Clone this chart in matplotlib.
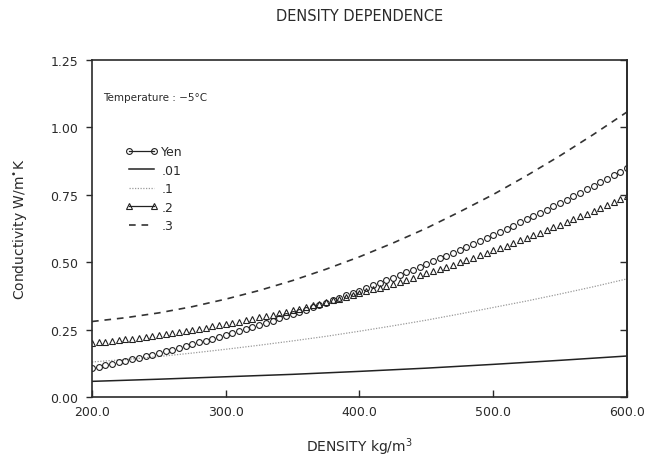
import matplotlib
matplotlib.use("Agg")
import matplotlib.pyplot as plt
from matplotlib.lines import Line2D

# ---- data ----
density_fine = [200 + 5 * i for i in range(81)]
yen = [0.1070, 0.1122, 0.1175, 0.1228, 0.1283, 0.1339, 0.1396, 0.1454, 0.1513, 0.1573,
       0.1634, 0.1697, 0.1760, 0.1824, 0.1889, 0.1955, 0.2023, 0.2091, 0.2161, 0.2231,
       0.2303, 0.2375, 0.2449, 0.2523, 0.2599, 0.2676, 0.2753, 0.2832, 0.2912, 0.2993,
       0.3074, 0.3157, 0.3241, 0.3326, 0.3412, 0.3499, 0.3587, 0.3676, 0.3767, 0.3858,
       0.3950, 0.4043, 0.4138, 0.4233, 0.4329, 0.4427, 0.4525, 0.4625, 0.4725, 0.4827,
       0.4929, 0.5033, 0.5138, 0.5243, 0.5350, 0.5458, 0.5567, 0.5677, 0.5788, 0.5900,
       0.6013, 0.6127, 0.6242, 0.6358, 0.6475, 0.6593, 0.6712, 0.6832, 0.6954, 0.7076,
       0.7199, 0.7324, 0.7449, 0.7576, 0.7703, 0.7832, 0.7961, 0.8092, 0.8224, 0.8356,
       0.8490]
k_02 = [0.2000, 0.2025, 0.2051, 0.2078, 0.2106, 0.2135, 0.2165, 0.2197, 0.2229, 0.2263,
        0.2298, 0.2333, 0.2370, 0.2408, 0.2447, 0.2488, 0.2529, 0.2571, 0.2615, 0.2659,
        0.2705, 0.2752, 0.2800, 0.2849, 0.2899, 0.2950, 0.3002, 0.3056, 0.3110, 0.3166,
        0.3223, 0.3280, 0.3339, 0.3399, 0.3460, 0.3523, 0.3586, 0.3650, 0.3716, 0.3782,
        0.3850, 0.3919, 0.3989, 0.4060, 0.4132, 0.4205, 0.4279, 0.4355, 0.4431, 0.4509,
        0.4588, 0.4667, 0.4748, 0.4830, 0.4913, 0.4998, 0.5083, 0.5169, 0.5257, 0.5345,
        0.5435, 0.5526, 0.5618, 0.5711, 0.5805, 0.5900, 0.5996, 0.6094, 0.6192, 0.6292,
        0.6393, 0.6494, 0.6597, 0.6701, 0.6806, 0.6913, 0.7020, 0.7128, 0.7238, 0.7348,
        0.7460]

density_mid = [200, 225, 250, 275, 300, 325, 350, 375, 400, 425, 450, 475, 500, 525, 550, 575, 600]
k_03 = [0.280, 0.294, 0.312, 0.335, 0.363, 0.395, 0.432, 0.474, 0.520, 0.571, 0.626,
        0.687, 0.751, 0.821, 0.895, 0.974, 1.057]
k_01 = [0.130, 0.139, 0.150, 0.163, 0.177, 0.192, 0.208, 0.225, 0.244, 0.264, 0.285,
        0.308, 0.332, 0.356, 0.382, 0.409, 0.438]

density_coarse = [200, 250, 300, 350, 400, 450, 500, 550, 600]
k_001 = [0.058, 0.066, 0.075, 0.084, 0.095, 0.107, 0.121, 0.136, 0.152]

labels = ["Yen", ".01", ".1", ".2", ".3"]
x_ticks = [200, 300, 400, 500, 600]
x_tick_labels = ["200.0", "300.0", "400.0", "500.0", "600.0"]
y_ticks = [0.0, 0.25, 0.5, 0.75, 1.0, 1.25]
y_tick_labels = ["0.00", "0.25", "0.50", "0.75", "1.00", "1.25"]

plt.rcParams['font.family'] = ['DejaVu Sans']
ink = '#2a2a2a'

fig = plt.figure(figsize=(6.49, 4.60), dpi=100)
fig.patch.set_facecolor('white')
ax = fig.add_axes([0.1418, 0.1348, 0.8242, 0.7326])

ax.plot(density_coarse, k_001, color='#222222', lw=1.1, ls='-')
ax.plot(density_mid, k_01, color='#9a9a9a', lw=0.9, ls=(0, (1, 1.2)))
ax.plot(density_mid, k_03, color='#333333', lw=1.2, ls=(0, (4, 3.5)))
ax.plot(density_fine, yen, ls='none', marker='o', ms=4.2, mfc='none',
        mec='#222222', mew=0.8)
ax.plot(density_fine, k_02, ls='none', marker='^', ms=4.2, mfc='none',
        mec='#222222', mew=0.8)

ax.set_xlim(200, 600)
ax.set_ylim(0, 1.25)
ax.set_xticks(x_ticks)
ax.set_xticklabels(x_tick_labels, fontsize=9, color=ink)
ax.set_yticks(y_ticks)
ax.set_yticklabels(y_tick_labels, fontsize=9, color=ink)
ax.tick_params(axis='x', direction='in', length=5, width=1, color=ink, pad=6)
ax.tick_params(axis='y', direction='out', length=4, width=1, color=ink, pad=6)
for s in ax.spines.values():
    s.set_linewidth(1.2)
    s.set_color(ink)

sec = ax.secondary_yaxis('right')
sec.set_yticks(y_ticks)
sec.tick_params(axis='y', direction='in', length=5, width=1, color=ink,
                labelright=False)
sec.spines['right'].set_linewidth(1.2)
sec.spines['right'].set_color(ink)

ax.set_title("DENSITY DEPENDENCE", fontsize=10.5, color=ink, pad=29)
ax.set_xlabel("DENSITY kg/m$^3$", fontsize=10, color=ink, labelpad=12)
ax.set_ylabel(r"Conductivity W/m$^{\bullet}$K", fontsize=10, color=ink, labelpad=15)

ax.text(0.021, 0.89, "Temperature : \u22125\u00b0C", transform=ax.transAxes,
        fontsize=7.5, color=ink, va='center', ha='left')

handles = [
    Line2D([], [], color='#222222', lw=0.9, marker='o', ms=4.2, mfc='none', mew=0.8),
    Line2D([], [], color='#222222', lw=1.1),
    Line2D([], [], color='#9a9a9a', lw=0.9, ls=(0, (1, 1.2))),
    Line2D([], [], color='#222222', lw=0.9, marker='^', ms=4.2, mfc='none', mew=0.8),
    Line2D([], [], color='#333333', lw=1.2, ls=(0, (4, 3.5))),
]
leg = ax.legend(handles, labels, loc='upper left', bbox_to_anchor=(0.062, 0.748),
                frameon=False, fontsize=9, numpoints=2, handlelength=2.6,
                handletextpad=0.3, labelspacing=0.45, borderaxespad=0, borderpad=0)
for t in leg.get_texts():
    t.set_color(ink)

fig.savefig("out.png", dpi=100, facecolor='white')
